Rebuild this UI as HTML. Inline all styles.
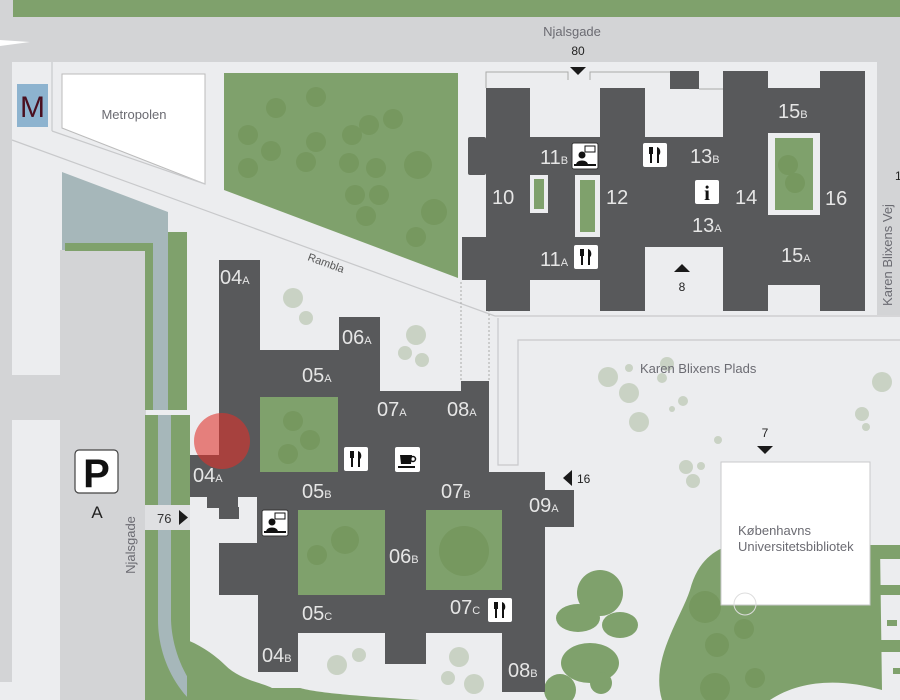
<!DOCTYPE html>
<html><head><meta charset="utf-8"><style>
html,body{margin:0;padding:0;background:#ecedef;}
svg{display:block;font-family:"Liberation Sans",sans-serif;}
.rl{fill:#e6e6e6;font-size:20px;}
.sb{font-size:11px;}
.lb{fill:#6b6b72;font-size:13px;}
</style></head><body>
<svg width="900" height="700" viewBox="0 0 900 700" xmlns="http://www.w3.org/2000/svg">
<rect width="900" height="700" fill="#ecedef"/>
<!-- top roads -->
<rect x="0" y="0" width="900" height="62" fill="#d3d4d6"/>
<rect x="13" y="0" width="887" height="17" fill="#7fa16c"/>
<polygon points="0,40 30,42 0,46" fill="#fff"/>
<rect x="0" y="62" width="12" height="620" fill="#d3d4d6"/>
<rect x="877" y="62" width="23" height="253" fill="#d3d4d6"/>
<!-- left area -->
<rect x="0" y="375" width="62" height="45" fill="#d3d4d6"/>
<rect x="60" y="250" width="86" height="450" fill="#d3d4d6"/>
<polygon points="62,172 168,212 168,410 153,410 153,250 62,250 62,242" fill="#a6b7ba"/>
<rect x="65" y="243" width="88" height="8" fill="#7fa16c"/>
<rect x="145" y="250" width="8" height="160" fill="#7fa16c"/>
<rect x="168" y="232" width="19" height="178" fill="#7fa16c"/>
<rect x="145" y="415" width="45" height="285" fill="#7fa16c"/>
<path d="M158,415 L171,415 L171,620 C172,650 185,680 205,700 L190,700 C170,680 158,650 158,620 Z" fill="#a6b7ba"/>
<path d="M187,640 C200,645 215,655 225,665 C240,680 260,682 272,688 L300,688 C315,692 340,695 420,700 L187,700 Z" fill="#7fa16c"/>
<rect x="145" y="505" width="45" height="25" fill="#dfe0e2"/>
<text x="157" y="523" font-size="13" fill="#333">76</text>
<polygon points="179,510 188,517.5 179,525" fill="#1a1a1a"/>
<rect x="75" y="450" width="43" height="43" rx="4" fill="#fff" stroke="#444" stroke-width="1.2"/>
<text x="96.5" y="487" font-size="40" font-weight="bold" text-anchor="middle" fill="#111">P</text>
<text x="97" y="518" font-size="17" text-anchor="middle" fill="#222">A</text>
<text transform="translate(135,545) rotate(-90)" class="lb" text-anchor="middle" font-size="12">Njalsgade</text>
<!-- Metropolen / M -->
<rect x="17" y="84" width="31" height="43" fill="#8db3cf"/>
<text x="32.5" y="117" font-size="30" text-anchor="middle" fill="#4a0f1f">M</text>
<polygon points="62,74 205,74 205,184 62,128" fill="#fff" stroke="#bbb"/>
<text x="134" y="119" class="lb" text-anchor="middle">Metropolen</text>
<!-- park -->
<polygon points="224,73 458,73 458,278 224,190" fill="#7fa16c"/>
<g fill="#76985f">
<circle cx="276" cy="108" r="10"/><circle cx="316" cy="97" r="10"/><circle cx="248" cy="135" r="10"/><circle cx="271" cy="151" r="10"/><circle cx="248" cy="168" r="10"/><circle cx="306" cy="162" r="10"/><circle cx="316" cy="142" r="10"/><circle cx="352" cy="135" r="10"/><circle cx="369" cy="125" r="10"/><circle cx="393" cy="119" r="10"/><circle cx="349" cy="163" r="10"/><circle cx="376" cy="168" r="10"/><circle cx="418" cy="165" r="14"/><circle cx="355" cy="195" r="10"/><circle cx="379" cy="195" r="10"/><circle cx="366" cy="216" r="10"/><circle cx="434" cy="212" r="13"/><circle cx="416" cy="237" r="10"/>
</g>
<!-- Rambla lines -->
<g stroke="#c8c9cb" stroke-width="1.2" fill="none">
<line x1="12" y1="140" x2="495" y2="316"/>
<line x1="52" y1="131" x2="205" y2="184"/>
<line x1="205" y1="184" x2="900" y2="432" stroke="none"/>
<polyline points="224,190 458,278 500,318 900,316" stroke="none"/>
<line x1="458" y1="278" x2="900" y2="278" stroke="none"/>
<line x1="495" y1="316" x2="900" y2="316"/>
<polyline points="900,340 518,340 518,465 498,465 498,318"/>
<line x1="52" y1="131" x2="52" y2="62"/>
</g>
<g stroke="#aaa" stroke-width="1" stroke-dasharray="2,2"><line x1="461" y1="282" x2="461" y2="381"/><line x1="489" y1="282" x2="489" y2="381"/></g>
<text transform="translate(307,260) rotate(20)" fill="#555" font-size="11">Rambla</text>
<!-- trees light -->
<g fill="#c9d2c4">
<circle cx="293" cy="298" r="10"/><circle cx="306" cy="318" r="7"/><circle cx="416" cy="335" r="10"/><circle cx="405" cy="353" r="7"/><circle cx="422" cy="360" r="7"/>
<circle cx="608" cy="377" r="10"/><circle cx="629" cy="368" r="4"/><circle cx="629" cy="393" r="10"/><circle cx="639" cy="422" r="10"/><circle cx="667" cy="364" r="7"/><circle cx="662" cy="378" r="5"/><circle cx="683" cy="401" r="5"/><circle cx="672" cy="409" r="3"/><circle cx="718" cy="440" r="4"/><circle cx="882" cy="382" r="10"/><circle cx="862" cy="414" r="7"/><circle cx="866" cy="427" r="4"/>
<circle cx="686" cy="467" r="7"/><circle cx="701" cy="466" r="4"/><circle cx="693" cy="481" r="7"/>
<circle cx="337" cy="665" r="10"/><circle cx="359" cy="655" r="7"/><circle cx="459" cy="657" r="10"/><circle cx="448" cy="678" r="7"/><circle cx="474" cy="684" r="10"/>
</g>
<!-- bottom green blobs -->
<g fill="#7fa16c">
<circle cx="600" cy="593" r="23"/><ellipse cx="578" cy="618" rx="22" ry="14"/><ellipse cx="620" cy="625" rx="18" ry="13"/>
<ellipse cx="590" cy="663" rx="29" ry="20"/><circle cx="601" cy="683" r="11"/><circle cx="560" cy="690" r="16"/>
<path d="M662,700 C650,660 680,620 690,590 C698,560 715,550 730,545 L880,545 L882,690 C840,678 800,680 770,700 Z"/>
<rect x="880" y="545" width="20" height="14"/><rect x="880" y="585" width="20" height="10"/><rect x="880" y="640" width="20" height="12"/>
<rect x="887" y="620" width="10" height="6"/><rect x="893" y="668" width="7" height="6"/>
</g>
<g fill="#76985f"><circle cx="705" cy="607" r="16"/><circle cx="744" cy="629" r="10"/><circle cx="717" cy="645" r="12"/><circle cx="715" cy="688" r="15"/><circle cx="755" cy="678" r="10"/></g>
<rect x="721" y="462" width="149" height="143" fill="#fff" stroke="#c8c9cb"/>
<circle cx="745" cy="604" r="11" fill="none" stroke="#ddd"/>
<text x="738" y="535" class="lb" font-size="12">Københavns</text>
<text x="738" y="551" class="lb" font-size="12">Universitetsbibliotek</text>
<text x="640" y="373" class="lb">Karen Blixens Plads</text>
<text x="765" y="437" font-size="12" text-anchor="middle" fill="#222">7</text>
<polygon points="757,446 773,446 765,454" fill="#1a1a1a"/>
<text x="572" y="36" class="lb" text-anchor="middle">Njalsgade</text>
<text x="578" y="55" font-size="12" text-anchor="middle" fill="#222">80</text>
<polygon points="570,67 586,67 578,75" fill="#1a1a1a"/>
<text transform="translate(892,255) rotate(-90)" class="lb" font-size="12" text-anchor="middle">Karen Blixens Vej</text>
<text x="895" y="180" font-size="12" fill="#222">1</text>
<!-- north building -->
<g fill="none" stroke="#aaa"><polyline points="486,88 486,72 568,72 568,80"/><polyline points="590,80 590,72 670,72"/><line x1="699" y1="89" x2="723" y2="89"/></g>
<g fill="#58595b">
<rect x="670" y="71" width="29" height="18"/>
<rect x="486" y="88" width="44" height="223"/><rect x="600" y="88" width="45" height="223"/>
<rect x="723" y="71" width="45" height="240"/><rect x="820" y="71" width="45" height="240"/>
<rect x="768" y="88" width="52" height="197"/>
<rect x="486" y="137" width="237" height="110"/><rect x="468" y="137" width="18" height="38" rx="2"/>
<rect x="462" y="237" width="183" height="43"/>
</g>
<rect x="530" y="175" width="18" height="38" fill="#ecedef"/><rect x="534" y="179" width="10" height="30" fill="#7fa16c"/>
<rect x="575" y="175" width="25" height="62" fill="#ecedef"/><rect x="580" y="180" width="15" height="52" fill="#7fa16c"/>
<rect x="768" y="133" width="52" height="82" fill="#ecedef"/><rect x="775" y="138" width="38" height="72" fill="#7fa16c"/>
<circle cx="788" cy="165" r="10" fill="#76985f"/><circle cx="795" cy="183" r="10" fill="#76985f"/>
<g class="rl">
<text x="540" y="164">11<tspan class="sb">B</tspan></text>
<text x="690" y="163">13<tspan class="sb">B</tspan></text>
<text x="492" y="204">10</text><text x="606" y="204">12</text>
<text x="735" y="204">14</text><text x="825" y="205">16</text>
<text x="692" y="232">13<tspan class="sb">A</tspan></text>
<text x="778" y="118">15<tspan class="sb">B</tspan></text>
<text x="781" y="262">15<tspan class="sb">A</tspan></text>
<text x="540" y="266">11<tspan class="sb">A</tspan></text>
</g>
<polygon points="674,272 690,272 682,264" fill="#1a1a1a"/>
<text x="682" y="291" font-size="12" text-anchor="middle" fill="#222">8</text>
<!-- south building -->
<g fill="#58595b">
<rect x="219" y="260" width="41" height="237"/><rect x="190" y="455" width="70" height="42"/>
<rect x="207" y="497" width="31" height="11"/><rect x="219" y="507" width="20" height="12"/>
<rect x="260" y="350" width="120" height="160"/><rect x="339" y="317" width="41" height="74"/>
<rect x="380" y="391" width="109" height="81"/><rect x="461" y="381" width="28" height="91"/>
<rect x="260" y="472" width="285" height="38"/><rect x="545" y="472" width="29" height="55"/>
<rect x="257" y="497" width="41" height="98"/><rect x="219" y="543" width="79" height="52"/>
<rect x="258" y="510" width="287" height="123"/>
<rect x="258" y="633" width="40" height="39"/><rect x="385" y="633" width="41" height="31"/><rect x="502" y="633" width="43" height="59"/>
</g>
<rect x="545" y="472" width="29" height="18" fill="#ecedef"/>
<rect x="260" y="397" width="78" height="75" fill="#7fa16c"/>
<rect x="298" y="510" width="87" height="85" fill="#7fa16c"/>
<rect x="426" y="510" width="76" height="80" fill="#7fa16c"/>
<g fill="#76985f"><circle cx="293" cy="421" r="10"/><circle cx="310" cy="440" r="10"/><circle cx="288" cy="454" r="10"/><circle cx="345" cy="540" r="14"/><circle cx="317" cy="555" r="10"/><circle cx="464" cy="551" r="25"/></g>
<circle cx="222" cy="441" r="28" fill="#e0302a" fill-opacity="0.58"/>
<g class="rl">
<text x="220" y="284">04<tspan class="sb">A</tspan></text>
<text x="342" y="344">06<tspan class="sb">A</tspan></text>
<text x="302" y="382">05<tspan class="sb">A</tspan></text>
<text x="377" y="416">07<tspan class="sb">A</tspan></text>
<text x="447" y="416">08<tspan class="sb">A</tspan></text>
<text x="193" y="482">04<tspan class="sb">A</tspan></text>
<text x="302" y="498">05<tspan class="sb">B</tspan></text>
<text x="441" y="498">07<tspan class="sb">B</tspan></text>
<text x="529" y="512">09<tspan class="sb">A</tspan></text>
<text x="389" y="563">06<tspan class="sb">B</tspan></text>
<text x="302" y="620">05<tspan class="sb">C</tspan></text>
<text x="450" y="614">07<tspan class="sb">C</tspan></text>
<text x="262" y="662">04<tspan class="sb">B</tspan></text>
<text x="508" y="677">08<tspan class="sb">B</tspan></text>
</g>
<polygon points="572,470 572,486 563,478" fill="#1a1a1a"/>
<text x="577" y="483" font-size="12" fill="#222">16</text>
<!-- icons -->
<defs>
<g id="fork"><rect x="0" y="0" width="24" height="24" rx="2" fill="#fff"/><rect x="6" y="4" width="4" height="7" fill="#111"/><rect x="7" y="9" width="2" height="11" fill="#111"/><path d="M14,4 C18,5 18,11 16,12 L16,20 L14,20 Z" fill="#111"/></g>
<g id="pers"><rect x="0" y="0" width="26" height="26" rx="2" fill="#fff" stroke="#333"/><rect x="13" y="3" width="10" height="6" fill="#fff" stroke="#111" stroke-width="1"/><circle cx="10" cy="12" r="3.5" fill="#111"/><path d="M4,22 C4,16 16,16 16,22 Z" fill="#111"/><rect x="2" y="21" width="22" height="2" fill="#111"/></g>
</defs>
<use href="#fork" x="643" y="143"/><use href="#fork" x="574" y="245"/>
<use href="#fork" x="344" y="447"/><use href="#fork" x="488" y="598"/>
<use href="#pers" x="572" y="143" width="24" height="24"/>
<use href="#pers" x="262" y="510"/>
<rect x="695" y="180" width="24" height="24" rx="2" fill="#fff"/>
<text x="707" y="200" font-size="21" font-weight="bold" font-family="Liberation Serif,serif" text-anchor="middle" fill="#111">i</text>
<rect x="395" y="447" width="25" height="25" rx="2" fill="#fff"/>
<path d="M400,455 L412,455 L411,464 L401,464 Z" fill="#111"/><circle cx="413" cy="459" r="2.5" fill="none" stroke="#111" stroke-width="1.5"/><rect x="398" y="466" width="17" height="2" fill="#111"/>
</svg>
</body></html>
